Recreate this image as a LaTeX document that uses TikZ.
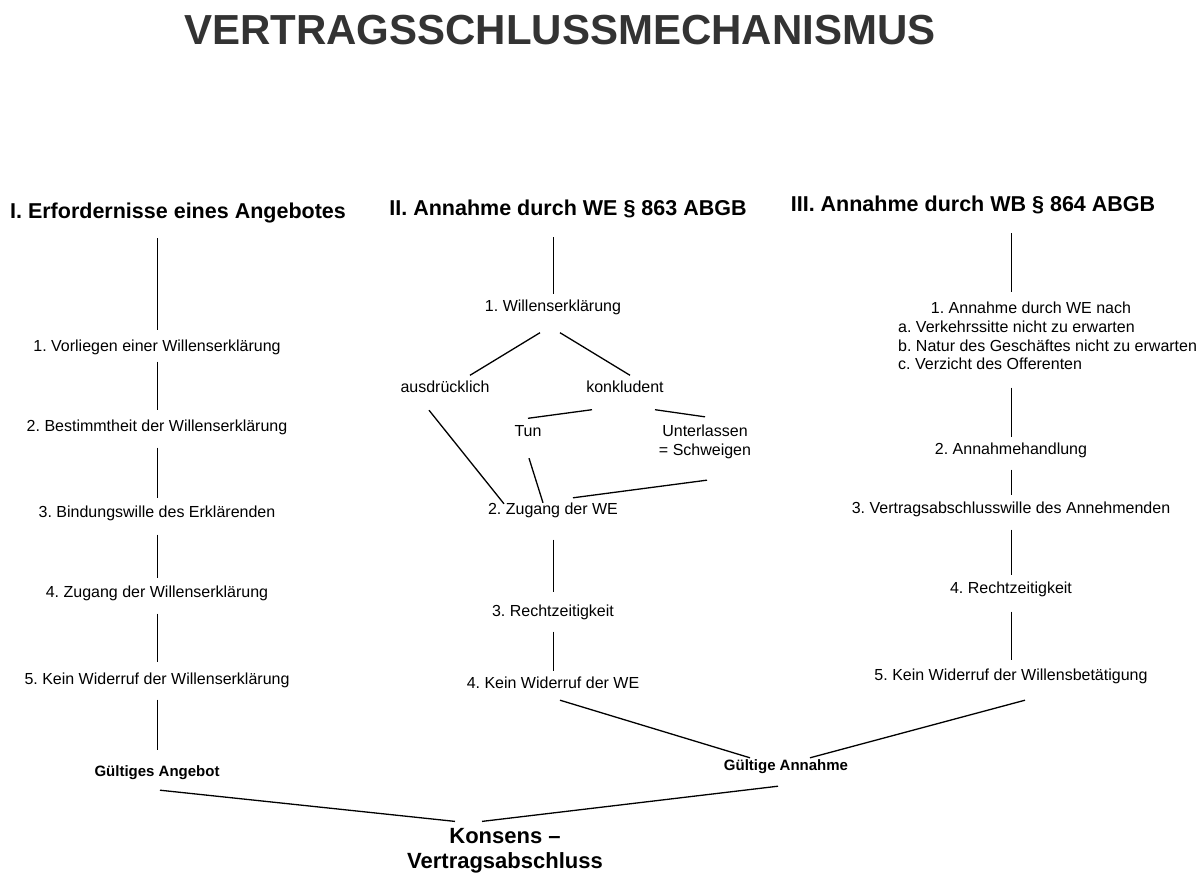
\documentclass[tikz,border=0pt]{standalone}
\usepackage{fontspec}
\setmainfont{Liberation Sans}
\frenchspacing

\begin{document}
\begin{tikzpicture}
  [x=1pt,y=-1pt,every node/.style={inner sep=5pt},
   lbl/.style={font=\fontsize{16}{19}\selectfont,text height=11.5pt,text depth=3.5pt},
   head/.style={font=\bfseries\fontsize{21.5}{25}\selectfont,text height=15.5pt,text depth=4.5pt},
   res/.style={font=\bfseries\fontsize{15}{18}\selectfont,text height=11pt,text depth=3pt},
   link/.style={line width=1pt},
   slant/.style={line width=1.3pt}]
  \useasboundingbox[fill=white] (0,0) rectangle (1200,896);

  \node[font=\bfseries\fontsize{42}{48}\selectfont,text=black!80] (title) at (560,30) {VERTRAGSSCHLUSSMECHANISMUS};

  \node[head] (h1) at (178,213) {I. Erfordernisse eines Angebotes};
  \node[head] (h2) at (568,210) {II. Annahme durch WE § 863 ABGB};
  \node[head] (h3) at (973,206) {III. Annahme durch WB § 864 ABGB};

  % I. Angebot
  \node[lbl] (a1) at (157,347) {1. Vorliegen einer Willenserklärung};
  \node[lbl] (a2) at (157,427) {2. Bestimmtheit der Willenserklärung};
  \node[lbl] (a3) at (157,513) {3. Bindungswille des Erklärenden};
  \node[lbl] (a4) at (157,593) {4. Zugang der Willenserklärung};
  \node[lbl] (a5) at (157,680) {5. Kein Widerruf der Willenserklärung};
  \node[res] (ga) at (157,772) {Gültiges Angebot};

  % II. Annahme durch WE
  \node[lbl] (b1) at (553,307) {1. Willenserklärung};
  \node[lbl] (ba) at (445,388) {ausdrücklich};
  \node[lbl] (bk) at (625,388) {konkludent};
  \node[lbl] (bt) at (528,432) {Tun};
  \node[font=\fontsize{16}{19}\selectfont,align=center] (bu) at (705,442) {Unterlassen\\= Schweigen};
  \node[lbl] (b2) at (553,510) {2. Zugang der WE};
  \node[lbl] (b3) at (553,612) {3. Rechtzeitigkeit};
  \node[lbl] (b4) at (553,684) {4. Kein Widerruf der WE};
  \node[res] (gn) at (786,766) {Gültige Annahme};

  % III. Annahme durch WB
  \node[lbl] (c1) at (1031,309) {1. Annahme durch WE nach};
  \node[lbl,anchor=west] (c1a) at (893,328) {a. Verkehrssitte nicht zu erwarten};
  \node[lbl,anchor=west] (c1b) at (893,347) {b. Natur des Geschäftes nicht zu erwarten};
  \node[lbl,anchor=west] (c1c) at (893,365) {c. Verzicht des Offerenten};
  \node[lbl] (c2) at (1011,450) {2. Annahmehandlung};
  \node[lbl] (c3) at (1011,509) {3. Vertragsabschlusswille des Annehmenden};
  \node[lbl] (c4) at (1011,589) {4. Rechtzeitigkeit};
  \node[lbl] (c5) at (1011,676) {5. Kein Widerruf der Willensbetätigung};

  \node[font=\bfseries\fontsize{22}{25}\selectfont,align=center] (ks) at (505,851) {Konsens –\\Vertragsabschluss};

  % vertical lines
  \draw[link,shorten <=10pt,shorten >=4pt] (h1.south -| a1.north) -- (a1.north);
  \draw[link,shorten <=12pt] (h2.south -| b1.north) -- (b1.north);
  \draw[link,shorten <=12pt,shorten >=4pt] (h3.south -| c2.north) -- (c1.north -| c2.north);
  \draw[link,shorten <=10pt] (c1c.south -| c2.north) -- (c2.north);
  \foreach \from/\to/\s/\e in {a1/a2/2pt/4pt,a2/a3/8pt/2pt,a3/a4/9pt/2pt,a4/a5/8pt/5pt,
      a5/ga/7pt/10pt,b2/b3/17pt/7pt,b3/b4/7pt/0pt,c2/c3/7pt/1pt,c3/c4/8pt/1pt,c4/c5/10pt/3pt}
    \draw[link,shorten <=\s,shorten >=\e] (\from.south) -- (\to.north);

  % slanted lines
  \draw[slant] ([xshift=-13pt,yshift=-13pt]b1.south) -- ([xshift=25pt]ba.north);
  \draw[slant] ([xshift=7pt,yshift=-13pt]b1.south) -- ([xshift=5pt]bk.north);
  \draw[slant] ([xshift=-33pt,yshift=-9pt]bk.south) -- ([yshift=1pt]bt.north);
  \draw[slant] ([xshift=30pt,yshift=-9pt]bk.south) -- ([yshift=3pt]bu.north);
  \draw[slant] ([xshift=-16pt,yshift=-9.5pt]ba.south) -- ([xshift=-49pt,yshift=-6.5pt]b2.north);
  \draw[slant] ([xshift=1pt,yshift=-13.5pt]bt.south) -- ([xshift=-10pt,yshift=-5.5pt]b2.north);
  \draw[slant] ([xshift=2pt,yshift=-16pt]bu.south) -- ([xshift=20pt,yshift=-0.5pt]b2.north);
  \draw[slant] ([xshift=7pt,yshift=-3.5pt]b4.south) -- ([xshift=-36pt,yshift=-4pt]gn.north);
  \draw[slant] ([xshift=14pt,yshift=-11.5pt]c5.south) -- ([xshift=24pt,yshift=-4pt]gn.north);
  \draw[slant] ([xshift=3pt,yshift=-6pt]ga.south) -- ([xshift=-50pt,yshift=2pt]ks.north);
  \draw[slant] ([xshift=-8pt,yshift=-8pt]gn.south) -- ([xshift=-23pt,yshift=2pt]ks.north);
\end{tikzpicture}
\end{document}
